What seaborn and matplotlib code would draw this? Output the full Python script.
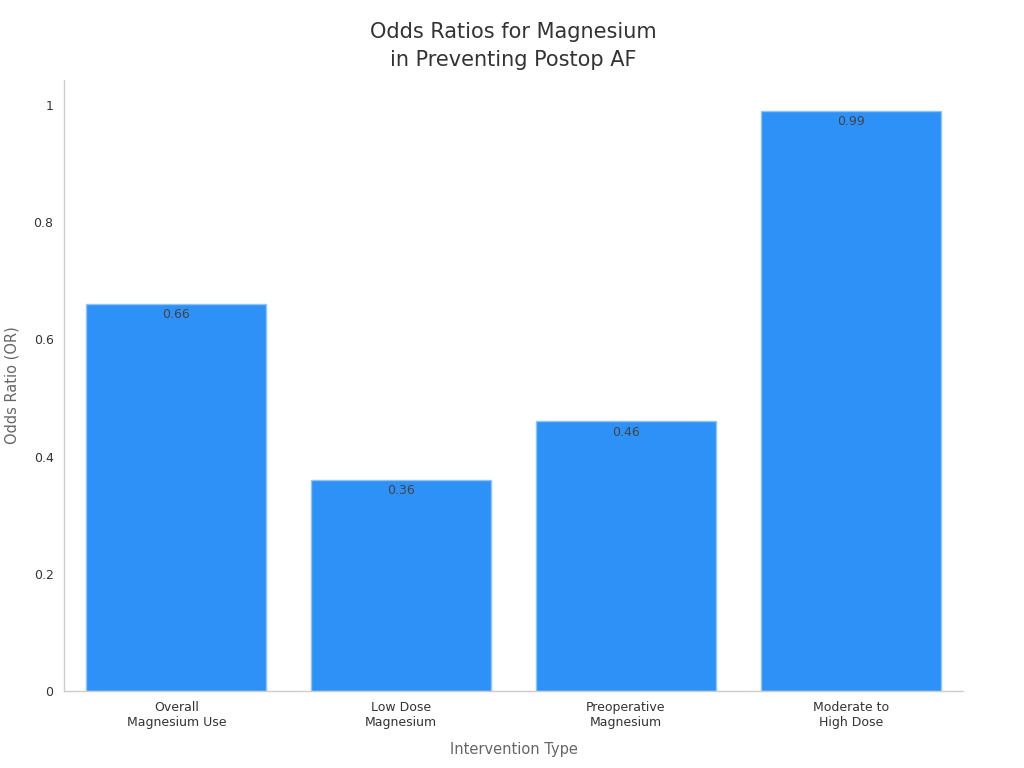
import matplotlib
matplotlib.use('Agg')
import matplotlib.pyplot as plt
from matplotlib.ticker import FuncFormatter
import seaborn as sns
import pandas as pd

# data
categories = ['Overall\nMagnesium Use', 'Low Dose\nMagnesium', 'Preoperative\nMagnesium', 'Moderate to\nHigh Dose']
odds_ratios = [0.66, 0.36, 0.46, 0.99]

df = pd.DataFrame({'Intervention': categories, 'OR': odds_ratios})

sns.set_style('white')
plt.rcParams['font.family'] = ['DejaVu Sans']

fig = plt.figure(figsize=(10.24, 7.68), dpi=100)
ax = fig.add_axes([0.0625, 0.1003, 0.8780, 0.7957])

sns.barplot(data=df, x='Intervention', y='OR', color='#2E91F8', width=0.8,
            edgecolor='#8cc4fb', linewidth=1, saturation=1, ax=ax)

for i, v in enumerate(odds_ratios):
    ax.annotate(f'{v:.2f}', (i, v), xytext=(0, -3), textcoords='offset points',
                ha='center', va='top', fontsize=9, color='#444444')

ax.set_xlim(-0.5, 3.5)
ax.set_ylim(0, 1.043)
ax.set_yticks([0, 0.2, 0.4, 0.6, 0.8, 1])
ax.yaxis.set_major_formatter(FuncFormatter(lambda v, p: f'{v:g}'))

ax.set_title('Odds Ratios for Magnesium\nin Preventing Postop AF', fontsize=15,
             color='#333333', pad=10, linespacing=1.5)
ax.set_xlabel('Intervention Type', fontsize=10.5, color='#666666', labelpad=9)
ax.set_ylabel('Odds Ratio (OR)', fontsize=10.5, color='#666666', labelpad=10)

ax.tick_params(axis='both', labelsize=9, colors='#333333', length=4, color='#aaaaaa')

sns.despine(ax=ax)
for s in ['left', 'bottom']:
    ax.spines[s].set_color('#cccccc')
    ax.spines[s].set_linewidth(1)

fig.savefig('out.png', dpi=100)
